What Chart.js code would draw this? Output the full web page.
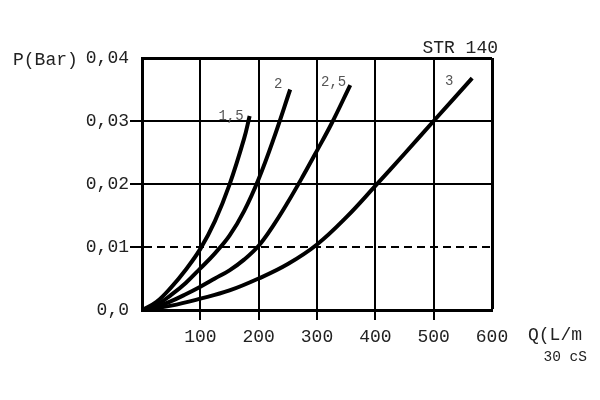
<!DOCTYPE html>
<html>
<head>
<meta charset="utf-8">
<script src="https://cdn.jsdelivr.net/npm/chart.js@4"></script>
<style>
  html, body { margin: 0; padding: 0; background: #fff; }
  #wrap { width: 600px; height: 400px; }
</style>
</head>
<body>
<div id="wrap"><canvas id="c" width="600" height="400"></canvas></div>
<script>
// ---- data ----
const seriesLabels = ['1,5', '2', '2,5', '3'];

const q15 = [0, 25, 50, 75, 100, 125, 150, 175, 184.5];
const p15 = [0, 0.0013, 0.0036, 0.0064, 0.0097, 0.0141, 0.0199, 0.0272, 0.0308];

const q20 = [0, 25, 50, 75, 100, 125, 150, 175, 200, 225, 254];
const p20 = [0, 0.0008, 0.0024, 0.0043, 0.0066, 0.0090, 0.0118, 0.0157, 0.0208, 0.0270, 0.0350];

const q25 = [0, 25, 50, 75, 100, 125, 150, 175, 200, 225, 250, 275, 300, 325, 357];
const p25 = [0, 0.0005, 0.0014, 0.0025, 0.0037, 0.0050, 0.0063, 0.0080, 0.0102, 0.0134, 0.0171, 0.0211, 0.0253, 0.0296, 0.0357];

const q30 = [0, 50, 100, 150, 200, 250, 300, 350, 400, 450, 500, 566];
const p30 = [0, 0.0007, 0.0018, 0.0031, 0.0050, 0.0073, 0.0104, 0.0147, 0.0197, 0.0248, 0.0300, 0.0368];

const xTicks = [0, 100, 200, 300, 400, 500, 600];
const xTickLabels = ['', '100', '200', '300', '400', '500', '600'];
const yTicks = [0, 0.01, 0.02, 0.03, 0.04];
const yTickLabels = ['0,0', '0,01', '0,02', '0,03', '0,04'];
const dashedLevel = 0.01;

const titleText = 'STR 140';
const yTitle = 'P(Bar)';
const xTitle = 'Q(L/m';
const xSubTitle = '30 cS';

// ---- build ----
function pts(qs, ps) { return qs.map((q, i) => ({x: q, y: ps[i]})); }
const seriesQ = [q15, q20, q25, q30];
const seriesP = [p15, p20, p25, p30];

const MONO = '"Liberation Mono", "DejaVu Sans Mono", monospace';
const TXT = '#222';

const datasets = seriesQ.map((qs, i) => ({
  label: seriesLabels[i],
  data: pts(qs, seriesP[i]),
  borderColor: '#000',
  borderWidth: 4,
  pointRadius: 0,
  fill: false,
  tension: 0.4
}));

const labelOffsets = [
  {dx: -6, dy: 0, align: 'right'},
  {dx: -12, dy: -5, align: 'center'},
  {dx: -4, dy: -3, align: 'right'},
  {dx: -23, dy: 3, align: 'center'}
];

const textPlugin = {
  id: 'texts',
  afterDraw(chart) {
    const ctx = chart.ctx;
    const ys = chart.scales.y;
    ctx.save();
    ctx.fillStyle = TXT;
    ctx.textBaseline = 'middle';
    ctx.font = '18px ' + MONO;
    ctx.textAlign = 'left';
    ctx.fillText(yTitle, 13, ys.getPixelForValue(0.04) + 2);
    ctx.textAlign = 'right';
    ctx.fillText(titleText, 498, 48);
    ctx.textAlign = 'left';
    ctx.fillText(xTitle, 528, 335);
    ctx.font = '14.5px ' + MONO;
    ctx.textAlign = 'right';
    ctx.fillText(xSubTitle, 587, 357);
    // curve labels
    ctx.font = '14px ' + MONO;
    ctx.fillStyle = '#555';
    chart.data.datasets.forEach((ds, i) => {
      const meta = chart.getDatasetMeta(i);
      const last = meta.data[meta.data.length - 1];
      const o = labelOffsets[i];
      ctx.textAlign = o.align;
      ctx.fillText(ds.label, last.x + o.dx, last.y + o.dy);
    });
    ctx.restore();
  }
};

new Chart(document.getElementById('c'), {
  type: 'line',
  data: { datasets },
  plugins: [textPlugin],
  options: {
    responsive: false,
    animation: false,
    devicePixelRatio: 1,
    layout: { padding: { left: 0, top: 58, right: 108, bottom: 0 } },
    plugins: { legend: { display: false }, tooltip: { enabled: false }, title: { display: false } },
    scales: {
      x: {
        type: 'linear',
        min: 0, max: 600,
        afterBuildTicks: s => { s.ticks = xTicks.map(v => ({value: v})); },
        afterFit: s => { s.height = 90; },
        ticks: {
          callback: (v, i) => xTickLabels[i],
          font: { family: MONO, size: 18 },
          color: TXT,
          padding: 6,
          maxRotation: 0,
          autoSkip: false
        },
        grid: {
          color: '#000',
          lineWidth: ctx => (ctx.tick && ctx.tick.value === 600) ? 3 : 2,
          tickLength: 10,
          tickWidth: 2,
          tickColor: ctx => (ctx.tick && ctx.tick.value > 0 && ctx.tick.value < 600) ? '#000' : 'rgba(0,0,0,0)'
        },
        border: { color: '#000', width: 3 }
      },
      y: {
        type: 'linear',
        min: 0, max: 0.04,
        afterBuildTicks: s => { s.ticks = yTicks.map(v => ({value: v})); },
        afterFit: s => { s.width = 142; },
        ticks: {
          callback: (v, i) => yTickLabels[i],
          font: { family: MONO, size: 18 },
          color: TXT,
          padding: 1,
          autoSkip: false
        },
        grid: {
          color: '#000',
          lineWidth: ctx => (ctx.tick && Math.abs(ctx.tick.value - 0.04) < 1e-9) ? 3 : 2,
          tickLength: 12,
          tickWidth: 2,
          tickColor: ctx => (ctx.tick && ctx.tick.value > 1e-9 && ctx.tick.value < 0.04 - 1e-9) ? '#000' : 'rgba(0,0,0,0)'
        },
        border: {
          color: '#000', width: 3,
          dash: ctx => (ctx.tick && Math.abs(ctx.tick.value - dashedLevel) < 1e-9) ? [8, 5] : []
        }
      }
    }
  }
});
</script>
</body>
</html>
